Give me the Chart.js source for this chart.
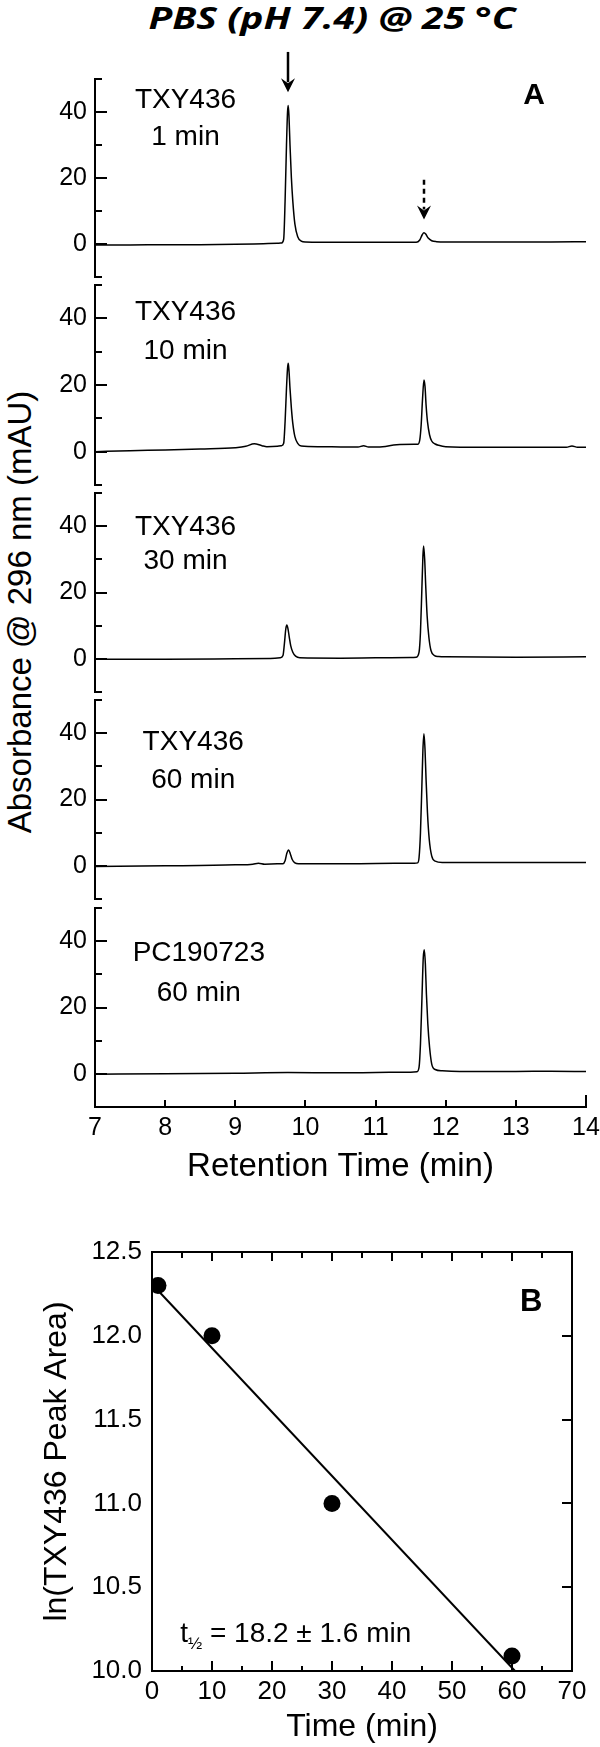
<!DOCTYPE html>
<html>
<head>
<meta charset="utf-8">
<script src="https://cdn.jsdelivr.net/npm/chart.js@4.4.1/dist/chart.umd.min.js"></script>
<style>
  body { margin: 0; background: #fff; }
  #page { position: relative; width: 600px; height: 1747px; overflow: hidden; font-family: "Liberation Sans", Arial, sans-serif; color: #000; }
  #page canvas { position: absolute; left: 0; }
  #title { position: absolute; left: 32px; top: 0; width: 600px; text-align: center; font: italic bold 30px "Open Sans", sans-serif; line-height: 36px; transform: scaleX(1.3); }
  #ylabel { position: absolute; left: -230px; top: 592px; width: 500px; height: 40px; line-height: 40px; text-align: center; font-size: 33px; transform: rotate(-90deg); }
</style>
</head>
<body>
<div id="page">
  <div id="title">PBS (pH 7.4) @ 25 °C</div>
  <div id="ylabel">Absorbance @ 296 nm (mAU)</div>
</div>
<script>
// chromatograms (retention time in min, absorbance in mAU)
const rt1 = [7.0, 7.5, 8.0, 8.5, 9.0, 9.4, 9.6, 9.66, 9.69, 9.71, 9.73, 9.745, 9.755, 9.765, 9.78, 9.80, 9.82, 9.85, 9.89, 9.94, 10.0, 10.5, 11.0, 11.5, 11.58, 11.63, 11.665, 11.69, 11.715, 11.75, 11.8, 11.87, 12.0, 12.5, 13.0, 13.5, 14.0];
const abs1 = [-0.3, -0.3, -0.2, -0.2, -0.1, 0.1, 0.2, 0.3, 1.5, 13, 30, 40, 42, 39, 30, 20, 13, 6, 2.2, 0.9, 0.6, 0.5, 0.5, 0.5, 0.5, 1.2, 2.8, 3.4, 3.0, 1.8, 1.0, 0.7, 0.6, 0.6, 0.6, 0.6, 0.7];

const rt2 = [7.0, 7.5, 8.0, 8.5, 9.0, 9.15, 9.27, 9.38, 9.45, 9.6, 9.66, 9.69, 9.71, 9.73, 9.745, 9.755, 9.765, 9.78, 9.80, 9.82, 9.85, 9.89, 9.94, 10.2, 10.6, 10.75, 10.83, 10.9, 11.1, 11.3, 11.55, 11.6, 11.63, 11.65, 11.67, 11.69, 11.705, 11.72, 11.74, 11.77, 11.8, 11.85, 11.9, 12.0, 12.5, 13.0, 13.5, 13.72, 13.8, 13.88, 14.0];
const abs2 = [0.0, 0.3, 0.5, 0.8, 1.2, 1.6, 2.4, 1.8, 1.5, 1.6, 1.8, 2.5, 9, 19, 25, 26.5, 24.5, 19, 13, 8.5, 4.5, 2.5, 1.7, 1.5, 1.4, 1.4, 1.8, 1.4, 1.5, 2.1, 2.2, 2.2, 3.5, 8, 16, 21.5, 19.5, 14, 9, 5, 3.2, 2.3, 1.9, 1.5, 1.3, 1.3, 1.3, 1.3, 1.7, 1.3, 1.3];

const rt3 = [7.0, 8.0, 9.0, 9.5, 9.64, 9.68, 9.70, 9.72, 9.735, 9.75, 9.77, 9.79, 9.82, 9.86, 9.92, 10.5, 11.0, 11.5, 11.58, 11.62, 11.64, 11.66, 11.675, 11.685, 11.70, 11.715, 11.735, 11.76, 11.79, 11.84, 11.9, 12.0, 13.0, 14.0];
const abs3 = [-0.1, -0.1, 0.0, 0.1, 0.3, 1.0, 4.5, 9, 10.2, 9.2, 6.5, 4, 2, 0.8, 0.3, 0.2, 0.3, 0.4, 0.5, 2, 8, 21, 31, 34, 30, 22, 13, 6.5, 2.5, 1.0, 0.7, 0.6, 0.5, 0.6];

const rt4 = [7.0, 8.0, 9.0, 9.25, 9.33, 9.42, 9.6, 9.68, 9.71, 9.735, 9.76, 9.785, 9.81, 9.85, 9.9, 10.5, 11.0, 11.55, 11.6, 11.62, 11.64, 11.66, 11.675, 11.69, 11.705, 11.72, 11.74, 11.765, 11.8, 11.85, 11.95, 12.5, 13.0, 14.0];
const abs4 = [-0.2, 0.0, 0.3, 0.5, 0.8, 0.5, 0.6, 0.6, 1.5, 3.8, 4.8, 3.6, 2, 0.9, 0.6, 0.6, 0.7, 0.8, 0.9, 2.5, 10, 24, 35, 39.8, 35, 26, 16, 8, 3, 1.4, 1.0, 1.0, 1.0, 1.0];

const rt5 = [7.0, 8.0, 9.0, 9.75, 10.5, 11.0, 11.5, 11.59, 11.62, 11.64, 11.66, 11.68, 11.695, 11.71, 11.725, 11.745, 11.77, 11.8, 11.85, 11.95, 12.2, 13.0, 13.5, 14.0];
const abs5 = [-0.1, 0.0, 0.2, 0.4, 0.3, 0.4, 0.5, 0.6, 2, 9, 22, 35, 37.4, 33, 24, 15, 8, 3, 1.3, 0.9, 0.7, 0.7, 0.8, 0.7];

const sampleNames = ["TXY436", "TXY436", "TXY436", "TXY436", "PC190723"];
const sampleTimes = ["1 min", "10 min", "30 min", "60 min", "60 min"];

// panel B: ln(peak area) vs incubation time
const timeB = [1, 10, 30, 60];
const lnAreaB = [12.30, 12.00, 11.00, 10.09];
const fitT = [1, 60.5];
const fitLn = [12.27, 10.0];

const rts = [rt1, rt2, rt3, rt4, rt5];
const absorb = [abs1, abs2, abs3, abs4, abs5];

// layout of the five stacked traces (page pixels) and label spots (data units)
const panelTop = [79, 285, 493, 700, 908];
const panelBottom = [277, 485, 692, 899, 1107];
const labelX = [8.29, 8.29, 8.29, 8.4, 8.48];
const nameY = [43.4, 41.8, 39.8, 37.3, 36.4];
const timeY = [32.2, 30.1, 29.3, 25.9, 24.4];

const FONT = '"Liberation Sans", Arial, sans-serif';
Chart.defaults.font.family = FONT;
Chart.defaults.color = "#000";

const page = document.getElementById("page");

function addCanvas(top, height) {
  const c = document.createElement("canvas");
  c.width = 600;
  c.height = height;
  c.style.top = top + "px";
  page.appendChild(c);
  return c;
}

// tick marks drawn inside the plot area, like the original figure
function inwardTicks(spec) {
  return {
    id: "inwardTicks",
    afterDraw(chart) {
      const { ctx, chartArea: a, scales } = chart;
      ctx.save();
      ctx.strokeStyle = "#000";
      ctx.lineWidth = 2;
      ctx.beginPath();
      if (spec.frame) {
        ctx.moveTo(a.left, a.top);
        ctx.lineTo(a.right, a.top);
        ctx.lineTo(a.right, a.bottom);
      }
      scales.y.ticks.forEach((t) => {
        const y = Math.round(scales.y.getPixelForValue(t.value));
        const l = spec.left ? spec.left(t.value) : 0;
        const r = spec.right ? spec.right(t.value) : 0;
        if (l) { ctx.moveTo(a.left, y); ctx.lineTo(a.left + l, y); }
        if (r) { ctx.moveTo(a.right, y); ctx.lineTo(a.right - r, y); }
      });
      scales.x.ticks.forEach((t) => {
        const x = Math.round(scales.x.getPixelForValue(t.value));
        const b = spec.bottom ? spec.bottom(t.value) : 0;
        const tp = spec.top ? spec.top(t.value) : 0;
        if (b) { ctx.moveTo(x, a.bottom); ctx.lineTo(x, a.bottom - b); }
        if (tp) { ctx.moveTo(x, a.top); ctx.lineTo(x, a.top + tp); }
      });
      ctx.stroke();
      ctx.restore();
    },
  };
}

function textNotes(items) {
  return {
    id: "textNotes",
    afterDraw(chart) {
      const { ctx, scales: { x, y } } = chart;
      ctx.save();
      ctx.fillStyle = "#000";
      items.forEach((n) => {
        let px = x.getPixelForValue(n.x);
        const py = y.getPixelForValue(n.y);
        if (n.parts) {
          ctx.textAlign = "left";
          ctx.textBaseline = "alphabetic";
          n.parts.forEach((p) => {
            ctx.font = p.font;
            ctx.fillText(p.text, px, py + (p.dy || 0));
            px += ctx.measureText(p.text).width;
          });
        } else {
          ctx.font = n.font;
          ctx.textAlign = "center";
          ctx.textBaseline = "middle";
          ctx.fillText(n.text, px, py);
        }
      });
      ctx.restore();
    },
  };
}

function markerArrows(items) {
  return {
    id: "markerArrows",
    afterDraw(chart) {
      const { ctx, scales: { x, y } } = chart;
      ctx.save();
      ctx.strokeStyle = "#000";
      ctx.fillStyle = "#000";
      items.forEach((m) => {
        const px = Math.round(x.getPixelForValue(m.x));
        const y1 = y.getPixelForValue(m.from);
        const tip = y.getPixelForValue(m.to);
        ctx.lineWidth = 2.5;
        ctx.setLineDash(m.dashed ? [5, 4] : []);
        ctx.beginPath();
        ctx.moveTo(px, y1);
        ctx.lineTo(px, tip - 10);
        ctx.stroke();
        ctx.setLineDash([]);
        ctx.beginPath();
        ctx.moveTo(px - 7, tip - 14);
        ctx.lineTo(px, tip);
        ctx.lineTo(px + 7, tip - 14);
        ctx.lineTo(px, tip - 9);
        ctx.closePath();
        ctx.fill();
      });
      ctx.restore();
    },
  };
}

const labelled = (v) => v >= 0 && v <= 40 && v % 20 === 0;

// panel A: five stacked chromatograms sharing one time axis
for (let i = 0; i < 5; i++) {
  const last = i === 4;
  const canvasTop = i === 0 ? 40 : panelTop[i] - 14;
  const canvasBottom = last ? 1190 : panelBottom[i] + 14;
  const canvas = addCanvas(canvasTop, canvasBottom - canvasTop);

  const notes = [
    { x: labelX[i], y: nameY[i], text: sampleNames[i], font: "28px " + FONT },
    { x: labelX[i], y: timeY[i], text: sampleTimes[i], font: "28px " + FONT },
  ];
  if (i === 0) notes.push({ x: 13.26, y: 45, text: "A", font: "bold 30px " + FONT });

  const arrows = i === 0
    ? [{ x: 9.755, from: 58.2, to: 46 }, { x: 11.69, from: 19.5, to: 7.4, dashed: true }]
    : [];

  new Chart(canvas, {
    type: "line",
    data: {
      datasets: [{
        data: rts[i].map((t, k) => ({ x: t, y: absorb[i][k] })),
        borderColor: "#000",
        borderWidth: 1.5,
        pointRadius: 0,
        cubicInterpolationMode: "monotone",
      }],
    },
    options: {
      responsive: false,
      animation: false,
      events: [],
      layout: {
        padding: { top: panelTop[i] - canvasTop, right: 14, bottom: last ? 0 : canvasBottom - panelBottom[i], left: 0 },
      },
      plugins: { legend: { display: false }, tooltip: { enabled: false } },
      scales: {
        x: {
          type: "linear",
          min: 7,
          max: 14,
          display: last,
          border: { display: true, color: "#000", width: 2 },
          grid: { display: false, drawTicks: false },
          ticks: { stepSize: 1, autoSkip: false, maxRotation: 0, padding: 6, font: { size: 25 } },
          title: { display: true, text: "Retention Time (min)", font: { size: 33 }, padding: { top: 0, bottom: 3 } },
          afterFit(s) {
            s.height = last ? 83 : 0;
            s.paddingLeft = 0;
            s.paddingRight = 0;
          },
        },
        y: {
          min: -10,
          max: 50,
          border: { display: true, color: "#000", width: 2 },
          grid: { display: false, drawTicks: false },
          ticks: { stepSize: 10, autoSkip: false, padding: 8, font: { size: 25 }, callback: (v) => (labelled(v) ? v : "") },
          afterFit(s) { s.width = 95; s.paddingTop = 0; s.paddingBottom = 0; },
        },
      },
    },
    plugins: [
      inwardTicks({
        left: (v) => (labelled(v) ? 12 : 7),
        bottom: last ? (v) => (v === 7 ? 0 : v === 14 ? 12 : 7) : null,
      }),
      textNotes(notes),
      markerArrows(arrows),
    ],
  });
}

// panel B: first-order decay fit
const bCanvas = addCanvas(1200, 547);
new Chart(bCanvas, {
  type: "scatter",
  data: {
    datasets: [
      {
        data: fitT.map((t, k) => ({ x: t, y: fitLn[k] })),
        showLine: true,
        borderColor: "#000",
        borderWidth: 2,
        pointRadius: 0,
      },
      {
        data: timeB.map((t, k) => ({ x: t, y: lnAreaB[k] })),
        pointRadius: 8.5,
        backgroundColor: "#000",
        borderWidth: 0,
      },
    ],
  },
  options: {
    responsive: false,
    animation: false,
    events: [],
    layout: { padding: { top: 52, right: 28, bottom: 0, left: 0 } },
    plugins: { legend: { display: false }, tooltip: { enabled: false } },
    scales: {
      x: {
        type: "linear",
        min: 0,
        max: 70,
        border: { display: true, color: "#000", width: 2 },
        grid: { display: false, drawTicks: false },
        ticks: { stepSize: 5, autoSkip: false, maxRotation: 0, padding: 5, font: { size: 26 }, callback: (v) => (v % 10 === 0 ? v : "") },
        title: { display: true, text: "Time (min)", font: { size: 32 }, padding: { top: 0, bottom: 1 } },
        afterFit(s) { s.height = 76; s.paddingLeft = 0; s.paddingRight = 0; },
      },
      y: {
        min: 10,
        max: 12.5,
        border: { display: true, color: "#000", width: 2 },
        grid: { display: false, drawTicks: false },
        ticks: { stepSize: 0.5, autoSkip: false, padding: 10, font: { size: 26 }, callback: (v) => v.toFixed(1) },
        title: { display: true, text: "ln(TXY436 Peak Area)", font: { size: 32 }, padding: { top: 38, bottom: 0 } },
        afterFit(s) { s.width = 152; s.paddingTop = 0; s.paddingBottom = 0; },
      },
    },
  },
  plugins: [
    inwardTicks({
      frame: true,
      bottom: (v) => (v === 0 || v === 70 ? 0 : v % 10 === 0 ? 10 : 5),
      top: (v) => (v === 0 || v === 70 ? 0 : v % 10 === 0 ? 9 : 6),
      right: (v) => (v === 10 || v === 12.5 ? 0 : 10),
    }),
    textNotes([
      { x: 63.2, y: 12.2, text: "B", font: "bold 31px " + FONT },
      {
        x: 4.7,
        y: 10.174,
        parts: [
          { text: "t", font: "28px " + FONT },
          { text: "½", font: "17px " + FONT, dy: 7 },
          { text: " = 18.2 ± 1.6 min", font: "28px " + FONT },
        ],
      },
    ]),
  ],
});
</script>
</body>
</html>
